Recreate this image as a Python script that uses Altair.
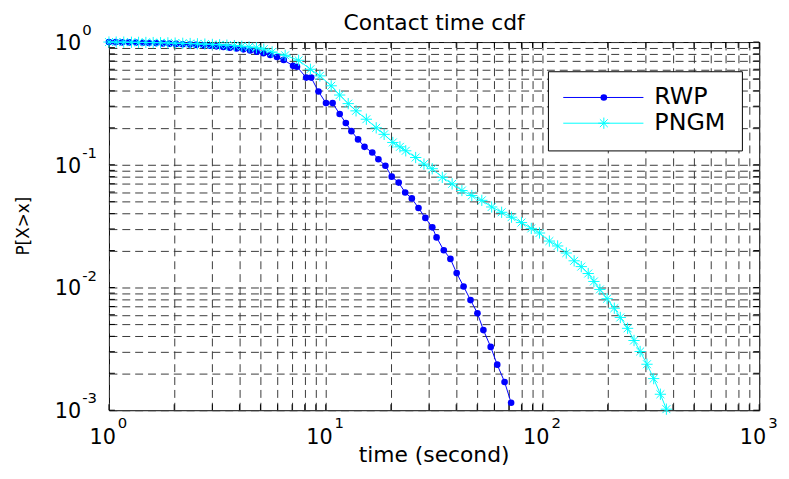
import altair as alt
import pandas as pd

# ---- data ----
RWP_X = [1.00, 1.07, 1.15, 1.24, 1.33, 1.43, 1.53, 1.65, 1.77, 1.90, 2.04, 2.19, 2.36, 2.53,
         2.72, 2.92, 3.13, 3.37, 3.61, 3.88, 4.17, 4.48, 4.81, 5.16, 5.55, 5.96, 6.40,
         7.07, 7.37, 8.13, 8.57, 9.26, 10.03, 10.76, 11.6, 12.38, 13.14, 14.1, 15.1, 16.4,
         17.5, 18.85, 20.16, 21.71, 23.26, 24.96, 26.79, 28.83, 31.03, 32.46, 35.05, 37.61,
         40.19, 43.26, 46.56, 50.12, 53.39, 57.7, 61.84, 66.87, 71.66]
RWP_Y = [1.00, 0.998, 0.995, 0.993, 0.99, 0.987, 0.983, 0.98, 0.975, 0.97, 0.965, 0.96, 0.955, 0.948,
         0.94, 0.932, 0.922, 0.912, 0.90, 0.887, 0.872, 0.855, 0.835, 0.81, 0.785, 0.755, 0.715,
         0.64, 0.629, 0.513, 0.513, 0.395, 0.318, 0.318, 0.259, 0.219, 0.188, 0.161, 0.140, 0.126,
         0.111, 0.0982, 0.0800, 0.0716, 0.0594, 0.0532, 0.0444, 0.0369, 0.0309, 0.0256, 0.0201, 0.0171,
         0.0131, 0.0102, 0.0079, 0.00617, 0.0045, 0.00328, 0.00235, 0.0017, 0.00115]

PNGM_X = [1.00, 1.08, 1.17, 1.27, 1.37, 1.48, 1.60, 1.73, 1.87, 2.02, 2.19, 2.37, 2.56, 2.77,
          3.00, 3.24, 3.50, 3.79, 4.10, 4.43, 4.79, 5.18, 5.66, 6.5, 7.5, 8.5, 9.4, 10.6, 11.6,
          12.7, 13.8, 15.4, 17.1, 18.6, 20.4, 22.0, 23.4, 26.0, 28.4, 31.0, 34.5, 38.3, 42.5, 47.2,
          52.5, 58.3, 64.8, 72.0, 80.0, 88.8, 96.9, 107.6, 117.5, 128.8, 140.0, 151.0, 162.6,
          172.7, 184.0, 198.7, 214.5, 228.6, 247.0, 264.5, 282.2, 303.5, 326.0, 350.0, 373.0]
PNGM_Y = [1.00, 0.999, 0.998, 0.996, 0.994, 0.992, 0.99, 0.987, 0.984, 0.98, 0.976, 0.972, 0.967, 0.962,
          0.956, 0.95, 0.943, 0.935, 0.925, 0.912, 0.898, 0.875, 0.83, 0.78, 0.71, 0.60, 0.53, 0.44, 0.37,
          0.315, 0.275, 0.235, 0.20, 0.177, 0.152, 0.140, 0.130, 0.1146, 0.1013, 0.0929, 0.0790, 0.0699,
          0.0617, 0.0562, 0.0513, 0.0453, 0.0410, 0.0374, 0.0338, 0.0303, 0.0278, 0.0239, 0.0218, 0.0191,
          0.0165, 0.0148, 0.0130, 0.0112, 0.00964, 0.00811, 0.00678, 0.0057, 0.00465, 0.00370, 0.00301,
          0.00237, 0.00181, 0.00135, 0.00102]

X_GRID = [1, 2, 3, 4, 5, 6, 7, 8, 9, 10, 20, 30, 40, 50, 60, 70, 80, 90,
          100, 200, 300, 400, 500, 600, 700, 800, 900, 1000]
Y_GRID = [0.001, 0.002, 0.003, 0.004, 0.005, 0.006, 0.007, 0.008, 0.009,
          0.01, 0.02, 0.03, 0.04, 0.05, 0.06, 0.07, 0.08, 0.09,
          0.1, 0.2, 0.3, 0.4, 0.5, 0.6, 0.7, 0.8, 0.9, 1]
X_LABEL_VALUES = [1, 10, 100, 1000]
X_LABEL_EXP = ["0", "1", "2", "3"]
Y_LABEL_VALUES = [1, 0.1, 0.01, 0.001]
Y_LABEL_EXP = ["0", "-1", "-2", "-3"]
SERIES = ["RWP", "PNGM"]
COLORS = ["#0000FF", "#00FFFF"]
TITLE = "Contact time cdf"
XTITLE = "time (second)"
YTITLE = "P[X>x]"

W, H = 657, 372
FONT = "DejaVu Sans"
STAR = "M-1,0L1,0M0,-1L0,1M-0.7,-0.7L0.7,0.7M-0.7,0.7L0.7,-0.7"
DOT = 45
STAR_SIZE = 130

xscale = alt.Scale(type="log", domain=[1, 1000], nice=False)
yscale = alt.Scale(type="log", domain=[0.001, 1], nice=False)

xaxis = alt.Axis(values=X_GRID, grid=True, labels=False, ticks=False, domain=False,
                 gridDash=[8, 5], gridColor="#3a3a3a", gridWidth=1, gridOpacity=1,
                 title=None)
yaxis = alt.Axis(values=Y_GRID, grid=True, labels=False, ticks=False, domain=False,
                 gridDash=[8, 5], gridColor="#3a3a3a", gridWidth=1, gridOpacity=1,
                 title=None)

X = alt.X("x:Q", scale=xscale, axis=xaxis)
Y = alt.Y("y:Q", scale=yscale, axis=yaxis)

rwp = pd.DataFrame({"x": RWP_X, "y": RWP_Y})
pngm = pd.DataFrame({"x": PNGM_X, "y": PNGM_Y})
xt = pd.DataFrame({"x": X_GRID})
yt = pd.DataFrame({"y": Y_GRID})
xl = pd.DataFrame({"x": X_LABEL_VALUES, "base": ["10"] * 4, "exp": X_LABEL_EXP})
yl = pd.DataFrame({"y": Y_LABEL_VALUES, "base": ["10"] * 4, "exp": Y_LABEL_EXP})
one = pd.DataFrame({"k": [0]})

rwp_line = alt.Chart(rwp).mark_line(color=COLORS[0], strokeWidth=1).encode(x=X, y=Y)
rwp_pts = alt.Chart(rwp).mark_point(shape="circle", filled=True, size=DOT, color=COLORS[0],
                                    opacity=1).encode(x=X, y=Y)
pngm_line = alt.Chart(pngm).mark_line(color=COLORS[1], strokeWidth=1).encode(x=X, y=Y)
pngm_pts = alt.Chart(pngm).mark_point(shape=STAR, filled=False, size=STAR_SIZE, color=COLORS[1],
                                      strokeWidth=1, opacity=1).encode(x=X, y=Y)

tick_bottom = alt.Chart(xt).mark_rule(color="black", strokeWidth=1).encode(
    x=X, y=alt.value(H), y2=alt.value(H - 6))
tick_top = alt.Chart(xt).mark_rule(color="black", strokeWidth=1).encode(
    x=X, y=alt.value(0), y2=alt.value(6))
tick_left = alt.Chart(yt).mark_rule(color="black", strokeWidth=1).encode(
    y=Y, x=alt.value(0), x2=alt.value(6))
tick_right = alt.Chart(yt).mark_rule(color="black", strokeWidth=1).encode(
    y=Y, x=alt.value(W - 6), x2=alt.value(W))

xl_base = alt.Chart(xl).mark_text(align="right", baseline="alphabetic", dx=7, font=FONT,
                                  fontSize=21, color="black").encode(
    x=X, y=alt.value(H + 34), text="base:N")
xl_exp = alt.Chart(xl).mark_text(align="left", baseline="alphabetic", dx=9, font=FONT,
                                 fontSize=15, color="black").encode(
    x=X, y=alt.value(H + 18), text="exp:N")
yl_base = alt.Chart(yl).mark_text(align="right", baseline="alphabetic", dy=8, font=FONT,
                                  fontSize=21, color="black").encode(
    y=Y, x=alt.value(-28), text="base:N")
yl_exp = alt.Chart(yl).mark_text(align="left", baseline="alphabetic", dy=-7, font=FONT,
                                 fontSize=15, color="black").encode(
    y=Y, x=alt.value(-27), text="exp:N")

title = alt.Chart(one).mark_text(align="center", baseline="alphabetic", font=FONT,
                                 fontSize=22, color="black").encode(
    x=alt.value(W / 2), y=alt.value(-12), text=alt.value(TITLE))
xtitle = alt.Chart(one).mark_text(align="center", baseline="alphabetic", font=FONT,
                                  fontSize=22, color="black").encode(
    x=alt.value(W / 2), y=alt.value(H + 52), text=alt.value(XTITLE))
ytitle = alt.Chart(one).mark_text(align="center", baseline="alphabetic", font=FONT,
                                  fontSize=17, color="black", angle=270).encode(
    x=alt.value(-81), y=alt.value(H / 2), text=alt.value(YTITLE))

# legend box
LX0, LX1, LY0, LY1 = 444, 640, 30, 110
ROW = [56, 82]
leg_box = alt.Chart(one).mark_rect(fill="white", stroke="black", strokeWidth=1).encode(
    x=alt.value(LX0), x2=alt.value(LX1), y=alt.value(LY0), y2=alt.value(LY1))
leg_layers = [leg_box]
for i, name in enumerate(SERIES):
    leg_layers.append(alt.Chart(one).mark_rule(color=COLORS[i], strokeWidth=1).encode(
        x=alt.value(459), x2=alt.value(540), y=alt.value(ROW[i])))
    if i == 0:
        leg_layers.append(alt.Chart(one).mark_point(shape="circle", filled=True, size=DOT,
                                                    color=COLORS[i], opacity=1).encode(
            x=alt.value(500), y=alt.value(ROW[i])))
    else:
        leg_layers.append(alt.Chart(one).mark_point(shape=STAR, filled=False, size=STAR_SIZE,
                                                    color=COLORS[i], strokeWidth=1,
                                                    opacity=1).encode(
            x=alt.value(500), y=alt.value(ROW[i])))
    leg_layers.append(alt.Chart(one).mark_text(align="left", baseline="middle", font=FONT,
                                               fontSize=24, color="black").encode(
        x=alt.value(551), y=alt.value(ROW[i]), text=alt.value(name)))

chart = alt.layer(
    rwp_line, tick_bottom, tick_top, tick_left, tick_right,
    rwp_pts, pngm_line, pngm_pts,
    xl_base, xl_exp, yl_base, yl_exp, title, xtitle, ytitle,
    *leg_layers
).properties(
    width=W, height=H,
    autosize=alt.AutoSizeParams(type="none"),
    padding={"left": 102, "top": 32, "right": 22, "bottom": 59},
    background="white",
).configure_view(stroke="black", strokeWidth=1)

chart.save("out.html", embed_options={"renderer": "svg", "actions": False})
